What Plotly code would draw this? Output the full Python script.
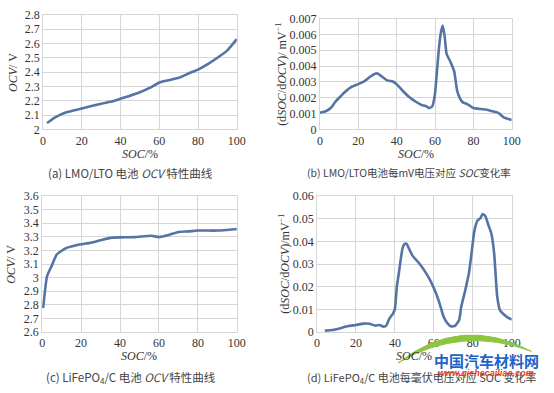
import plotly.graph_objects as go

W, H = 554, 393

# (a) LMO/LTO OCV
soc_a = [2, 6, 12, 20, 30, 36, 40, 50, 55, 60, 63, 70, 75, 80, 85, 90, 95, 100]
ocv_a = [2.045, 2.083, 2.12, 2.146, 2.18, 2.196, 2.214, 2.26, 2.29, 2.327, 2.338, 2.36,
         2.39, 2.417, 2.455, 2.50, 2.55, 2.63]

# (b) LMO/LTO dSOC/dOCV
soc_b = [0, 3, 6, 8, 10, 13, 16, 20, 23, 26, 29, 30, 32, 35, 38, 40, 43, 47, 50, 53, 55, 57,
         58.5, 60, 61, 62, 63, 64, 65, 66, 68, 70, 71.5, 73, 74.5, 77, 80, 84, 87, 90, 93, 96, 100]
rate_b = [0.00105, 0.00115, 0.0014, 0.00175, 0.002, 0.00236, 0.00266, 0.00286, 0.00303,
          0.00331, 0.00353, 0.00353, 0.00337, 0.0031, 0.00303, 0.00286, 0.00246, 0.002,
          0.00175, 0.00155, 0.00149, 0.00135, 0.00145, 0.00226, 0.00367, 0.00508, 0.00609,
          0.00656, 0.00589, 0.00478, 0.00428, 0.00367, 0.00246, 0.00196, 0.00171, 0.00159,
          0.00135, 0.00129, 0.00125, 0.00115, 0.00105, 0.00075, 0.0006]

# (c) LiFePO4/C OCV
soc_c = [0.5, 2.5, 5, 7.5, 12, 18, 25, 30, 36, 40, 48, 56, 60, 65, 70, 75, 80, 90, 100]
ocv_c = [2.776, 3.01, 3.09, 3.17, 3.215, 3.24, 3.256, 3.275, 3.294, 3.296, 3.298, 3.308,
         3.298, 3.313, 3.336, 3.34, 3.346, 3.346, 3.358]

# (d) LiFePO4/C dSOC/dOCV
soc_d = [4, 8, 12, 16, 20, 24, 27, 30, 32, 34, 35.5, 37, 39, 40, 41, 42, 43, 44, 45, 46, 47,
         49, 52, 55, 58, 61, 63, 65, 67, 69, 71, 73, 74, 76, 78, 79.5, 80.5, 81.5, 82.5, 84,
         85, 86.5, 88, 89.5, 91, 92.5, 94, 96, 98, 100]
rate_d = [0.0006, 0.0009, 0.0017, 0.0026, 0.0031, 0.0037, 0.0036, 0.0028, 0.0031, 0.0024,
          0.0027, 0.0057, 0.0081, 0.0102, 0.0202, 0.0259, 0.0322, 0.0372, 0.0389, 0.0389,
          0.0372, 0.0337, 0.0308, 0.0273, 0.023, 0.0173, 0.0124, 0.0067, 0.0038, 0.0024,
          0.0028, 0.0053, 0.0109, 0.018, 0.0259, 0.0358, 0.0429, 0.0472, 0.0493, 0.0503,
          0.0521, 0.0511, 0.0472, 0.0436, 0.0344, 0.0159, 0.0095, 0.0077, 0.0063, 0.0055]

x_ticks = [0, 20, 40, 60, 80, 100]
ticks_a = [2, 2.1, 2.2, 2.3, 2.4, 2.5, 2.6, 2.7, 2.8]
ticks_b = [0, 0.001, 0.002, 0.003, 0.004, 0.005, 0.006, 0.007]
ticks_c = [2.6, 2.7, 2.8, 2.9, 3, 3.1, 3.2, 3.3, 3.4, 3.5, 3.6]
ticks_d = [0, 0.01, 0.02, 0.03, 0.04, 0.05, 0.06]

captions = [
    "(a) LMO/LTO 电池 <i>OCV</i> 特性曲线",
    "(b) LMO/LTO电池每mV电压对应 <i>SOC</i>变化率",
    "(c) LiFePO<sub>4</sub>/C 电池 <i>OCV</i> 特性曲线",
    "(d) LiFePO<sub>4</sub>/C 电池每毫伏电压对应 SOC 变化率",
]
ytitles = ["<i>OCV</i>/ V", "(d<i>SOC</i>/d<i>OCV</i>)/ mV<sup>−1</sup>",
           "<i>OCV</i>/ V", "(d<i>SOC</i>/d<i>OCV</i>)/mV<sup>−1</sup>"]

LINE = "#5573a3"
GRID = "#d6d6d6"
SERIF = "Liberation Serif, Times New Roman, serif"
SANS = "Noto Sans CJK SC"

# pixel boxes (left, right, top, bottom)
boxes = [(41, 239, 8, 127), (324, 520, 12, 127), (40, 239, 196, 337), (321, 520, 196, 337)]

def px_x(v):
    return v / W

def px_y(v):
    return 1 - v / H

fig = go.Figure()
series = [(soc_a, ocv_a), (soc_b, rate_b), (soc_c, ocv_c), (soc_d, rate_d)]
yticks = [ticks_a, ticks_b, ticks_c, ticks_d]

layout = dict(width=W, height=H, margin=dict(l=0, r=0, t=0, b=0),
              paper_bgcolor="white", plot_bgcolor="white", showlegend=False)

annotations = []
for i, ((xs, ys), (l, r, t, b)) in enumerate(zip(series, boxes)):
    n = "" if i == 0 else str(i + 1)
    fig.add_trace(go.Scatter(x=xs, y=ys, mode="lines",
                             line=dict(color=LINE, width=2.6, shape="spline", smoothing=0.4),
                             xaxis="x" + n, yaxis="y" + n, hoverinfo="skip"))
    tk = yticks[i]
    layout["xaxis" + n] = dict(domain=[px_x(l), px_x(r)], anchor="y" + n, range=[0, 100],
                               tickvals=x_ticks, showgrid=True, gridcolor=GRID, gridwidth=1,
                               showline=True, linecolor=GRID, mirror=True, zeroline=False,
                               ticks="", ticklen=0,
                               tickfont=dict(family=SERIF, size=12, color="#333"))
    layout["yaxis" + n] = dict(domain=[px_y(b), px_y(t)], anchor="x" + n,
                               range=[tk[0], tk[-1]], tickvals=tk,
                               ticktext=[f"{v:g}" for v in tk],
                               showgrid=True, gridcolor=GRID, gridwidth=1,
                               showline=True, linecolor=GRID, mirror=True, zeroline=False,
                               ticks="", tickfont=dict(family=SERIF, size=12, color="#333"))
    cx = (l + r) / 2 / W
    annotations.append(dict(text="<i>SOC</i>/%", x=cx, y=px_y(b + 25), xref="paper",
                            yref="paper", showarrow=False, xanchor="center", yanchor="middle",
                            font=dict(family=SERIF, size=12, color="#333")))
    ytx = [10, 284, 8, 287][i]
    annotations.append(dict(text=ytitles[i], x=ytx / W, y=px_y((t + b) / 2), xref="paper",
                            yref="paper", showarrow=False, textangle=-90,
                            xanchor="center", yanchor="middle",
                            font=dict(family=SERIF, size=12, color="#333")))
    capy = [172, 172, 384, 384][i]
    capc = [130, 415, 131, 428][i]
    caps = [11.5, 10.5, 11.5, 11][i]
    annotations.append(dict(text=captions[i], x=capc / W, y=px_y(capy), xref="paper",
                            yref="paper", showarrow=False, xanchor="center", yanchor="middle",
                            font=dict(family=SANS, size=caps, color="#444")))

# watermark
annotations.append(dict(text="<b>中国汽车材料网</b>", x=494 / W, y=px_y(367), xref="paper",
                        yref="paper", showarrow=False, xanchor="center", yanchor="middle",
                        font=dict(family=SANS, size=15, color="#1f63c6")))
annotations.append(dict(text="<b><i>www.qichecailiao.com</i></b>", x=494 / W, y=px_y(380),
                        xref="paper", yref="paper", showarrow=False, xanchor="center",
                        yanchor="middle", font=dict(family="Liberation Sans", size=9,
                                                    color="#e8401c")))
layout["annotations"] = annotations
layout["shapes"] = [dict(type="path", xref="paper", yref="paper", layer="above",
                         path=f"M {404/W},{px_y(369)} Q {468/W},{px_y(318)} {540/W},{px_y(357)} "
                              f"Q {468/W},{px_y(330)} {404/W},{px_y(369)} Z",
                         fillcolor="#8cc63f", line=dict(color="#8cc63f", width=1))]

fig.update_layout(**layout)
fig.write_html("out.html", config={"displayModeBar": False},
               post_script="document.body.style.margin='0px';document.body.style.overflow='hidden';")
